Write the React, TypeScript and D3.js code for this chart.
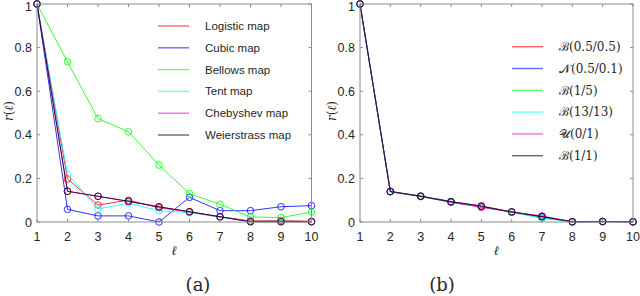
import React from "react";
import * as d3 from "d3";

const lags = [1, 2, 3, 4, 5, 6, 7, 8, 9, 10];
const yTicks = [0, 0.2, 0.4, 0.6, 0.8, 1];

// Panel (a): chaotic maps
const mapNames = ["Logistic map", "Cubic map", "Bellows map", "Tent map", "Chebyshev map", "Weierstrass map"];
const logistic = [1, 0.197, 0.078, 0.1, 0.065, 0.047, 0.024, 0.005, 0.007, 0.003];
const cubic = [1, 0.058, 0.028, 0.028, 0.0, 0.113, 0.052, 0.052, 0.07, 0.075];
const bellows = [1, 0.735, 0.474, 0.414, 0.261, 0.13, 0.081, 0.023, 0.02, 0.046];
const tent = [1, 0.219, 0.06, 0.086, 0.052, 0.043, 0.022, 0.003, 0.004, 0.002];
const chebyshev = [1, 0.141, 0.118, 0.094, 0.069, 0.046, 0.024, 0.002, 0.002, 0.002];
const weierstrass = [1, 0.141, 0.118, 0.095, 0.07, 0.047, 0.024, 0.001, 0.001, 0.001];

// Panel (b): distributions
const distNames = ["ℬ(0.5/0.5)", "𝒩(0.5/0.1)", "ℬ(1/5)", "ℬ(13/13)", "𝒰(0/1)", "ℬ(1/1)"];
const beta0505 = [1, 0.14, 0.119, 0.094, 0.074, 0.046, 0.026, 0.001, 0.002, 0.001];
const norm0501 = [1, 0.139, 0.118, 0.093, 0.071, 0.046, 0.024, 0.001, 0.002, 0.001];
const beta15 = [1, 0.138, 0.116, 0.091, 0.07, 0.045, 0.018, 0.001, 0.003, 0.001];
const beta1313 = [1, 0.139, 0.118, 0.092, 0.069, 0.045, 0.018, 0.001, 0.002, 0.001];
const unif01 = [1, 0.14, 0.118, 0.09, 0.067, 0.046, 0.028, 0.001, 0.002, 0.001];
const beta11 = [1, 0.14, 0.118, 0.093, 0.072, 0.046, 0.024, 0.001, 0.002, 0.001];

const colors = ["#ff0000", "#0000ff", "#00ff00", "#00ffff", "#ff00ff", "#000000"];

const seriesA = [logistic, cubic, bellows, tent, chebyshev, weierstrass];
const seriesB = [beta0505, norm0501, beta15, beta1313, unif01, beta11];

const AXIS = "#8c8c8c";
const TXT = "#262626";
const SANS = "'Liberation Sans', Arial, sans-serif";
const SERIF = "'DejaVu Serif', 'Liberation Serif', serif";

type PanelProps = {
  x0: number;
  x1: number;
  series: number[][];
  names: string[];
  legendX: number;
  legendY: number;
  legendFont: string;
  legendSize: number;
  label: string;
  labelX: number;
};

function Panel({ x0, x1, series, names, legendX, legendY, legendFont, legendSize, label, labelX }: PanelProps) {
  const yTop = 4;
  const yBot = 222;
  const xs = d3.scaleLinear().domain([1, 10]).range([x0, x1]);
  const ys = d3.scaleLinear().domain([0, 1]).range([yBot, yTop]);
  const line = d3
    .line<number>()
    .x((_, i) => xs(lags[i]))
    .y((v) => ys(v));
  const tk = 3;
  return (
    <g>
      {series.map((s, k) => (
        <g key={k}>
          <path d={line(s) || ""} fill="none" stroke={colors[k]} strokeWidth={1} strokeOpacity={0.8} />
          {s.map((v, i) => (
            <circle key={i} cx={xs(lags[i])} cy={ys(v)} r={3.3} fill="none" stroke={colors[k]} strokeWidth={1} strokeOpacity={0.8} />
          ))}
        </g>
      ))}
      {/* box */}
      <rect x={x0} y={yTop} width={x1 - x0} height={yBot - yTop} fill="none" stroke={AXIS} strokeWidth={1} />
      {lags.map((l) => (
        <g key={l}>
          <line x1={xs(l)} x2={xs(l)} y1={yBot} y2={yBot - tk} stroke={AXIS} />
          <line x1={xs(l)} x2={xs(l)} y1={yTop} y2={yTop + tk} stroke={AXIS} />
          <text x={xs(l)} y={241} textAnchor="middle" fontFamily={SANS} fontSize={12.5} fill={TXT}>
            {l}
          </text>
        </g>
      ))}
      {yTicks.map((t) => (
        <g key={t}>
          <line x1={x0} x2={x0 + tk} y1={ys(t)} y2={ys(t)} stroke={AXIS} />
          <line x1={x1} x2={x1 - tk} y1={ys(t)} y2={ys(t)} stroke={AXIS} />
          <text x={x0 - 5} y={Math.max(ys(t), 6.5)} dy="0.36em" textAnchor="end" fontFamily={SANS} fontSize={12.5} fill={TXT}>
            {String(t)}
          </text>
        </g>
      ))}
      <text x={(x0 + x1) / 2} y={255} textAnchor="middle" fontFamily={SERIF} fontStyle="italic" fontSize={13} fill={TXT}>
        ℓ
      </text>
      <text
        transform={`translate(${x0 - 24},${111}) rotate(-90)`}
        textAnchor="middle"
        fontFamily={SERIF}
        fontSize={12}
        fill={TXT}
      >
        <tspan fontStyle="italic">r</tspan>(<tspan fontStyle="italic">ℓ</tspan>)
      </text>
      {/* legend */}
      {names.map((n, k) => {
        const y = legendY + k * 21.8;
        return (
          <g key={n}>
            <line x1={legendX} x2={legendX + 31} y1={y} y2={y} stroke={colors[k]} strokeWidth={1.4} strokeOpacity={0.6} />
            <text x={legendX + 47} y={y} dy="0.35em" fontFamily={legendFont} fontSize={legendSize} fill={TXT}>
              {n}
            </text>
          </g>
        );
      })}
      <text x={labelX} y={291} textAnchor="middle" fontFamily={SERIF} fontSize={18} fill={TXT}>
        {label}
      </text>
    </g>
  );
}

export default function App() {
  return (
    <svg width={640} height={296} style={{ position: "absolute", left: 0, top: 0, background: "#fff" }}>
      <rect width={640} height={296} fill="#fff" />
      <Panel
        x0={37}
        x1={311.5}
        series={seriesA}
        names={mapNames}
        legendX={158}
        legendY={26}
        legendFont={SANS}
        legendSize={11.5}
        label="(a)"
        labelX={198}
      />
      <Panel
        x0={360}
        x1={633}
        series={seriesB}
        names={distNames}
        legendX={512}
        legendY={46.7}
        legendFont={SERIF}
        legendSize={12}
        label="(b)"
        labelX={442}
      />
    </svg>
  );
}
